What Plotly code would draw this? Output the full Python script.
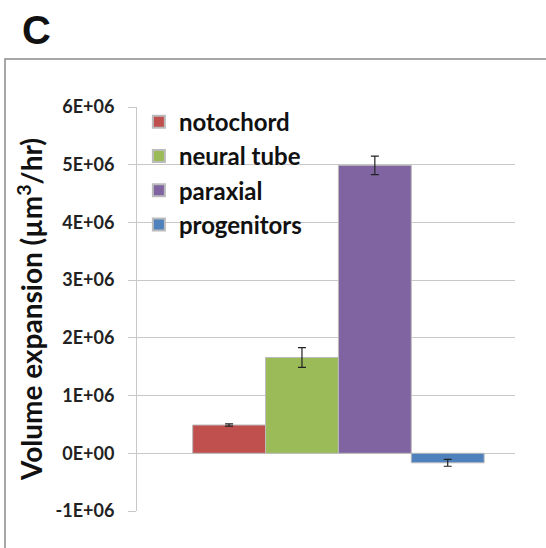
import plotly.graph_objects as go

categories = ["notochord", "neural tube", "paraxial", "progenitors"]
values = [0.49e6, 1.66e6, 4.99e6, -0.165e6]
errors = [0.02e6, 0.17e6, 0.16e6, 0.06e6]
colors = ["#C0504D", "#9BBB59", "#8064A2", "#4F81BD"]
tick_vals = [-1e6, 0, 1e6, 2e6, 3e6, 4e6, 5e6, 6e6]
tick_text = ["-1E+06", "0E+00", "1E+06", "2E+06", "3E+06", "4E+06", "5E+06", "6E+06"]

fig = go.Figure()
for name, v, e, c in zip(categories, values, errors, colors):
    fig.add_trace(go.Bar(
        x=[0], y=[v], name=name,
        marker=dict(color=c, line=dict(color="#BBBBBB", width=1)),
        error_y=dict(type="data", array=[e], color="#222222", thickness=1.2, width=4),
    ))

fig.update_layout(
    width=546, height=548,
    margin=dict(l=137, r=31, t=107, b=37),
    paper_bgcolor="white", plot_bgcolor="white",
    barmode="group", bargap=0.2, bargroupgap=0,
    showlegend=True,
    legend=dict(x=0.005, y=1.018, xanchor="left", yanchor="top",
                bgcolor="rgba(0,0,0,0)",
                font=dict(family="Lato", size=24, color="#111111", weight="bold"),
                itemsizing="constant", tracegroupgap=0, itemwidth=30),
    font=dict(family="Lato"),
    xaxis=dict(range=[-0.5528, 0.4847], showticklabels=False, showgrid=False,
               zeroline=False, showline=False, ticks=""),
    yaxis=dict(range=[-1e6, 6e6], tickvals=tick_vals, ticktext=tick_text,
               showgrid=True, gridcolor="#C8C8C8", gridwidth=1,
               zeroline=True, zerolinecolor="#C8C8C8", zerolinewidth=1,
               showline=True, linecolor="#C8C8C8", linewidth=1,
               ticks="outside", ticklen=8, tickcolor="#C8C8C8", ticklabelstandoff=10,
               tickfont=dict(family="Lato", size=18, color="#222222", weight="bold"),
               title=dict(text="Volume expansion (µm<sup>3</sup>/hr)",
                          font=dict(family="Lato", size=28, color="#111111", weight="bold"),
                          standoff=4)),
    shapes=[dict(type="rect", xref="paper", yref="paper",
                 x0=-132/378, x1=1.2, y0=-0.2, y1=(548-59-37)/404,
                 line=dict(color="#8A8A8A", width=1.5), fillcolor="rgba(0,0,0,0)")],
    annotations=[dict(text="<b>C</b>", xref="paper", yref="paper",
                      x=-117/378, y=(548-30-37)/404, xanchor="left", yanchor="middle",
                      showarrow=False,
                      font=dict(family="Liberation Sans", size=40, color="#111111"))],
)

fig.write_html("out.html")
